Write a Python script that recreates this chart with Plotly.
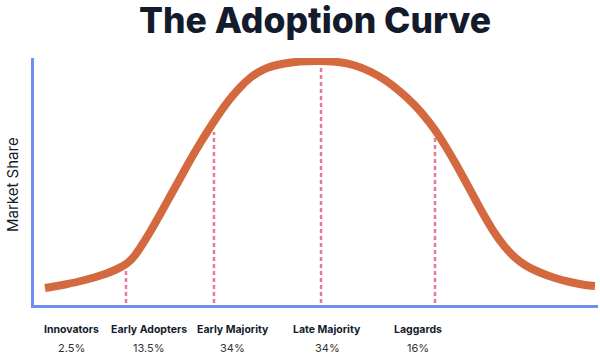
import plotly.graph_objects as go

# Bell curve (x: adoption timeline 0-100, y: market share 0-100)
curve_x = [1.95, 5.50, 9.04, 12.59, 14.36, 15.60, 16.67, 17.73, 18.97, 20.57, 22.34, 24.11,
           25.89, 27.66, 29.43, 31.21, 32.98, 34.75, 36.52, 38.30, 39.72, 41.31, 44.15,
           47.16, 50.89, 54.26, 56.91, 59.57, 62.23, 64.89, 67.55, 69.33, 71.10, 72.87,
           74.65, 76.42, 78.19, 79.96, 81.74, 83.51, 85.28, 87.06, 89.72, 92.38, 95.04,
           97.70, 99.47]
curve_y = [6.88, 8.30, 10.12, 12.55, 14.17, 15.59, 17.21, 19.64, 23.68, 29.55, 36.64, 43.93,
           51.21, 58.50, 65.38, 71.86, 77.94, 83.40, 88.06, 91.90, 94.13, 95.95, 97.65,
           98.54, 98.79, 98.26, 96.96, 94.53, 91.09, 86.44, 80.77, 76.11, 70.85, 64.57,
           57.69, 50.40, 42.91, 35.63, 28.95, 23.48, 19.23, 16.19, 13.16, 10.93, 9.31,
           8.10, 7.69]

# Segment boundaries (dashed lines) and their top heights
boundary_x = [16.31, 31.91, 50.89, 71.10]
boundary_top = [14.98, 70.04, 96.36, 68.02]
boundary_bottom = [0.8, 0.8, 0.8, 0.8]

# Category labels
categories = ["Innovators", "Early Adopters", "Early Majority", "Late Majority", "Laggards"]
shares = ["2.5%", "13.5%", "34%", "34%", "16%"]
label_x = [6.6, 20.4, 35.2, 52.0, 68.0]

CURVE = "#D4693F"
DASH = "#EA759D"
AXIS = "#6E8FF0"
DARK = "#131B2C"

W, H = 600, 358
L, R, T, B = 34, 2, 58, 53
pw, ph = W - L - R, H - T - B

fig = go.Figure()

for bx, bt, bb in zip(boundary_x, boundary_top, boundary_bottom):
    fig.add_trace(go.Scatter(
        x=[bx, bx], y=[bb, bt], mode="lines",
        line=dict(color=DASH, width=2.5, dash="4px,3px"),
        hoverinfo="skip", showlegend=False))

fig.add_trace(go.Scatter(
    x=curve_x, y=curve_y, mode="lines",
    line=dict(color=CURVE, width=8, shape="spline", smoothing=1.0),
    showlegend=False))

annotations = []
for cat, sh, lx in zip(categories, shares, label_x):
    annotations.append(dict(
        x=lx, y=(H - B - 329) / ph, xref="x", yref="paper", text="<b>" + cat + "</b>",
        showarrow=False, xanchor="center", yanchor="middle",
        font=dict(family="Inter", size=10.5, color=DARK)))
    annotations.append(dict(
        x=lx, y=(H - B - 348) / ph, xref="x", yref="paper", text=sh,
        showarrow=False, xanchor="center", yanchor="middle",
        font=dict(family="Inter", size=11, color="#333333")))

annotations.append(dict(
    x=(12 - L) / pw, y=(H - B - 185) / ph, xref="paper", yref="paper", text="Market Share",
    textangle=-90, showarrow=False, xanchor="center", yanchor="middle",
    font=dict(family="Inter", size=15, color=DARK)))

annotations.append(dict(
    x=(315 - L) / pw, y=(H - B - 20) / ph, xref="paper", yref="paper",
    text="The Adoption Curve",
    showarrow=False, xanchor="center", yanchor="middle",
    font=dict(family="Inter", size=35.5, color=DARK, weight=800)))

fig.update_layout(
    width=W, height=H,
    margin=dict(l=L, r=R, t=T, b=B),
    paper_bgcolor="white", plot_bgcolor="white",
    xaxis=dict(range=[0, 100], showgrid=False, zeroline=False, showticklabels=False,
               ticks="", showline=True, linecolor=AXIS, linewidth=3, fixedrange=True),
    yaxis=dict(range=[0, 100], showgrid=False, zeroline=False, showticklabels=False,
               ticks="", showline=True, linecolor=AXIS, linewidth=3, fixedrange=True),
    annotations=annotations,
    showlegend=False,
)

fig.write_html("out.html", config={"displayModeBar": False},
               post_script="document.body.style.margin='0';document.body.style.overflow='hidden';")
